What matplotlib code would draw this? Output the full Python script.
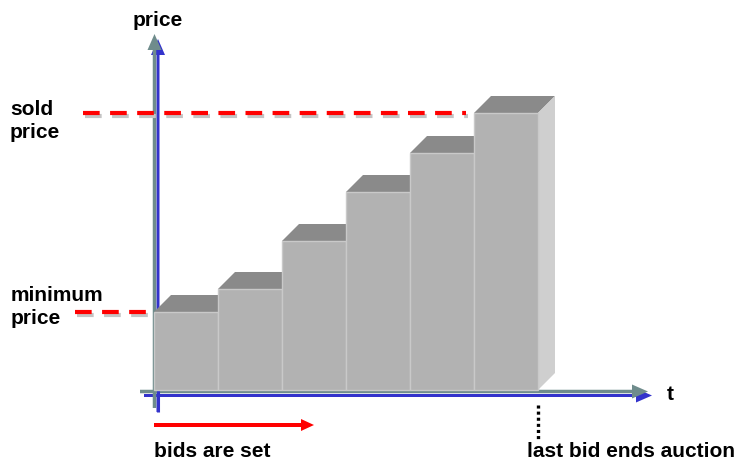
import matplotlib
matplotlib.use("Agg")
import matplotlib.pyplot as plt
from matplotlib.patches import Polygon, FancyArrow

plt.rcParams['font.family'] = ['Liberation Sans', 'DejaVu Sans']
plt.rcParams['lines.scale_dashes'] = False

# Successive bids over time (price units)
bids = [78, 101, 149, 198, 237, 277]
minimum_price = bids[0]
sold_price = bids[-1]
axis_labels = ["price", "t"]
price_labels = ["sold\nprice", "minimum\nprice"]
bottom_labels = ["bids are set", "last bid ends auction"]

W, H = 740, 464
fig = plt.figure(figsize=(W / 100, H / 100), dpi=100)

# Overlay axes in pixel units for arrows and labels
ov = fig.add_axes([0, 0, 1, 1])
ov.set_xlim(0, W)
ov.set_ylim(H, 0)
ov.axis('off')

# Bar axes: x in bid slots, y in price
x0_px, base_px, slot_px = 154, 391, 64
n = len(bids)
bx = fig.add_axes([x0_px / W, (H - base_px) / H, n * slot_px / W, 300 / H])
bx.set_xlim(0, n)
bx.set_ylim(0, 300)
bx.axis('off')

depth_x = 17 / slot_px   # depth offset in slots
depth_y = 17             # depth offset in price units

front_c, top_c, side_c, edge_c = '#b2b2b2', '#8a8a8a', '#cfcfcf', '#c9c9c9'

for i, v in enumerate(bids):
    top = Polygon([(i, v), (i + 1, v), (i + 1 + depth_x, v + depth_y), (i + depth_x, v + depth_y)],
                  closed=True, facecolor=top_c, edgecolor='none', clip_on=False, zorder=2)
    bx.add_patch(top)
    side = Polygon([(i + 1, 0), (i + 1, v), (i + 1 + depth_x, v + depth_y), (i + 1 + depth_x, depth_y)],
                   closed=True, facecolor=side_c, edgecolor='none', clip_on=False, zorder=2)
    bx.add_patch(side)
    bx.bar(i, v, width=1, align='edge', color=front_c, edgecolor=edge_c,
           linewidth=1.0, zorder=3, clip_on=False)

# Dashed price reference lines with soft shadow
def price_line(y, xa, xb):
    shadow_dy = -3
    bx.plot([xa + 2 / slot_px, xb + 2 / slot_px], [y + shadow_dy, y + shadow_dy],
            color='#c4c4c4', lw=3, linestyle=(0, (12, 7.5)), solid_capstyle='butt',
            clip_on=False, zorder=4)
    bx.plot([xa, xb], [y, y], color='#ff0000', lw=3, linestyle=(0, (12, 7.5)),
            solid_capstyle='butt', clip_on=False, zorder=5)

price_line(sold_price, (83 - x0_px) / slot_px, (466 - x0_px) / slot_px)
price_line(minimum_price, (75 - x0_px) / slot_px, (147 - x0_px) / slot_px)

# Axis arrows: blue shadow under a grey-green shaft
axis_grey, axis_blue = '#6f8c8c', '#3333cc'
ov.add_patch(FancyArrow(158, 413, 0, 40 - 413, width=3, head_width=14, head_length=16,
                        length_includes_head=True, color=axis_blue, lw=0, zorder=6))
ov.add_patch(FancyArrow(144, 396.5, 652 - 144, 0, width=3, head_width=14, head_length=16,
                        length_includes_head=True, color=axis_blue, lw=0, zorder=6))
ov.add_patch(FancyArrow(154.5, 409, 0, 35 - 409, width=3.5, head_width=14, head_length=16,
                        length_includes_head=True, color=axis_grey, lw=0, zorder=7))
ov.add_patch(FancyArrow(140, 392.5, 648 - 140, 0, width=3.5, head_width=14, head_length=16,
                        length_includes_head=True, color=axis_grey, lw=0, zorder=7))
ov.plot([158, 158], [380, 413], color=axis_blue, lw=2.2, solid_capstyle='butt', zorder=8)

# Bids timeline arrow
ov.add_patch(FancyArrow(154, 426, 314 - 154, 0, width=4, head_width=12, head_length=13,
                        length_includes_head=True, color='#ff0000', lw=0, zorder=6))

# Auction end marker under the last bar
ov.plot([538, 538], [406, 442], color='black', lw=2.4, linestyle=(0, (2.2, 2.2)),
        solid_capstyle='butt', zorder=6)

fs = 15
kw = dict(fontsize=fs, fontweight='bold', color='black', zorder=9)
ov.text(158, 20, axis_labels[0], ha='center', va='center', **kw)
ov.text(667, 395, axis_labels[1], ha='left', va='center', **kw)
ov.text(10, 121, price_labels[0], ha='left', va='center', linespacing=1.3, **kw)
ov.text(11, 307, price_labels[1], ha='left', va='center', linespacing=1.3, **kw)
ov.text(154, 452, bottom_labels[0], ha='left', va='center', **kw)
ov.text(527, 452, bottom_labels[1], ha='left', va='center', **kw)

fig.savefig("out.png", dpi=100)
